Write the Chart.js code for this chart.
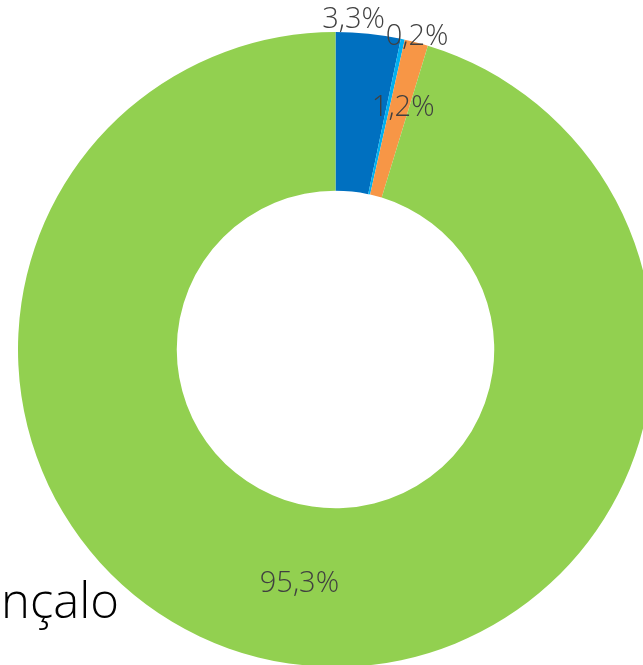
<!DOCTYPE html>
<html>
<head>
<meta charset="utf-8">
<script src="https://cdn.jsdelivr.net/npm/chart.js@4.4.1/dist/chart.umd.min.js"></script>
<style>
    html, body {
        margin: 0;
        padding: 0;
        width: 643px;
        height: 665px;
        overflow: hidden;
        background: #ffffff;
    }
    #chartBox {
        position: absolute;
        left: 0;
        top: 0;
        width: 653px;
        height: 667px;
    }
    #title {
        position: absolute;
        right: 524px;
        top: 575px;
        font-family: "Open Sans", "Noto Sans", sans-serif;
        font-weight: 300;
        font-size: 49px;
        color: #000000;
        white-space: nowrap;
        line-height: 1;
    }
</style>
</head>
<body>
<div id="title">São Gonçalo</div>
<div id="chartBox"><canvas id="donut"></canvas></div>
<script>
const categories = ['Categoria 1', 'Categoria 2', 'Categoria 3', 'Categoria 4'];
const shares = [3.3, 0.2, 1.2, 95.3];
const sliceColors = ['#0070C0', '#00B0F0', '#F79646', '#92D050'];

// where each label sits: fraction of outer radius and a small angle nudge (degrees)
const labelPlacement = [
    { r: 1.04, turn: -2.8 },
    { r: 1.017, turn: 2.4 },
    { r: 0.79, turn: 0.9 },
    { r: 0.746, turn: 0.3 }
];

const pctLabels = {
    id: 'pctLabels',
    afterDatasetsDraw(chart) {
        const ctx = chart.ctx;
        const meta = chart.getDatasetMeta(0);
        ctx.save();
        ctx.font = '300 29px "Open Sans", "Noto Sans", sans-serif';
        ctx.fillStyle = '#404040';
        ctx.textAlign = 'center';
        ctx.textBaseline = 'middle';
        meta.data.forEach((arc, i) => {
            const p = arc.getProps(['x', 'y', 'startAngle', 'endAngle', 'outerRadius']);
            const place = labelPlacement[i];
            const mid = (p.startAngle + p.endAngle) / 2 + place.turn * Math.PI / 180;
            const r = p.outerRadius * place.r;
            const text = shares[i].toFixed(1).replace('.', ',') + '%';
            ctx.fillText(text, p.x + Math.cos(mid) * r, p.y + Math.sin(mid) * r);
        });
        ctx.restore();
    }
};

new Chart(document.getElementById('donut'), {
    type: 'doughnut',
    data: {
        labels: categories,
        datasets: [{
            data: shares,
            backgroundColor: sliceColors,
            borderWidth: 0
        }]
    },
    options: {
        responsive: true,
        maintainAspectRatio: false,
        animation: false,
        cutout: '50%',
        layout: { padding: { left: 18, top: 32, right: 0, bottom: 0 } },
        plugins: {
            legend: { display: false },
            tooltip: { enabled: false }
        }
    },
    plugins: [pctLabels]
});
</script>
</body>
</html>
